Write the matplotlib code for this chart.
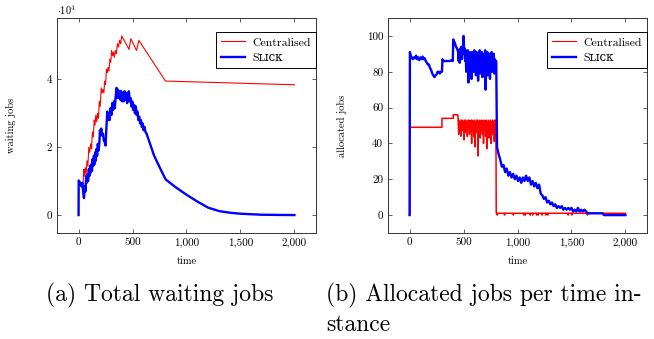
import numpy as np
import matplotlib
matplotlib.use("Agg")
import matplotlib.pyplot as plt

plt.rcParams['font.family'] = ['cmr10', 'DejaVu Serif']
plt.rcParams['mathtext.fontset'] = 'cm'
plt.rcParams['axes.unicode_minus'] = False

# ---- (a) total waiting jobs, in units of 1e4 ----
cent_wait_t = [0, 28, 40, 48, 55, 62, 70, 78, 86, 95, 103, 112, 120, 128, 136, 145, 152, 160,
               168, 176, 184, 192, 200, 210, 218, 226, 234, 242, 250, 258, 266, 274, 282, 290,
               298, 306, 314, 322, 330, 340, 350, 360, 370, 380, 390, 400, 468, 484, 537, 558,
               805, 2000]
cent_wait_y = [1.0, 0.9, 0.8, 1.35, 1.15, 1.4, 1.2, 1.6, 1.45, 2.0, 1.85, 2.1, 1.95, 2.45, 2.3,
               2.8, 2.65, 2.95, 2.75, 3.0, 2.85, 3.35, 3.2, 3.75, 3.6, 3.7, 3.6, 3.95, 3.85, 4.3,
               4.2, 4.35, 4.25, 4.6, 4.5, 4.85, 4.7, 4.8, 4.65, 4.85, 4.75, 5.05, 4.95, 5.15, 5.05,
               5.28, 4.88, 5.2, 4.85, 5.15, 3.95, 3.84]

slick_wait_t = [0, 1, 15, 25, 35, 45, 50, 58, 64, 70, 76, 82, 88, 95, 100, 106, 112, 118, 124,
                130, 136, 142, 148, 154, 160, 166, 172, 178, 184, 192, 198, 204, 210, 218, 226,
                234, 242, 250, 258, 266, 272, 280, 288, 296, 304, 312, 320, 328, 336, 344, 352,
                358, 364, 370, 378, 386, 394, 402, 410, 418, 426, 434, 442, 450, 458, 466, 474,
                482, 490, 498, 506, 514, 522, 530, 538, 546, 554, 562, 570, 578, 586, 594, 602,
                610, 620, 630, 700, 760, 807, 900, 1000, 1100, 1200, 1300, 1400, 1500, 1700, 2000]
slick_wait_y = [0, 1.02, 0.95, 0.85, 0.95, 0.6, 0.5, 0.85, 0.7, 1.15, 0.95, 1.2, 1.0, 1.35, 1.15,
                1.45, 1.25, 1.5, 1.3, 1.65, 1.45, 1.75, 1.5, 1.85, 1.6, 1.95, 1.75, 2.1, 1.9, 2.1,
                2.5, 2.35, 2.55, 2.35, 2.4, 2.2, 2.15, 2.05, 2.6, 3.05, 2.8, 3.0, 2.8, 3.15, 2.95,
                3.3, 3.1, 3.35, 3.15, 3.5, 3.75, 3.45, 3.7, 3.45, 3.65, 3.4, 3.65, 3.35, 3.6, 3.35,
                3.65, 3.4, 3.6, 3.3, 3.55, 3.65, 3.35, 3.45, 3.2, 3.35, 3.1, 3.25, 3.0, 3.2, 2.95,
                3.05, 2.8, 2.9, 2.7, 2.8, 2.6, 2.7, 2.5, 2.6, 2.45, 2.4, 1.75, 1.35, 1.05, 0.82,
                0.6, 0.4, 0.22, 0.12, 0.07, 0.04, 0.01, 0.0]

# ---- (b) allocated jobs per time instance ----
cent_alloc_head_t = [0, 3, 3, 300, 300, 405, 405, 447]
cent_alloc_head_y = [0, 0, 49, 49, 54, 54, 56, 56]
cent_alloc_noise = [53, 45, 53, 48, 52, 44, 53, 49, 53, 47, 52, 42, 53, 50, 53, 46, 52, 44, 53, 49,
                    53, 45, 52, 47, 53, 40, 53, 48, 52, 44, 53, 38, 52, 46, 53, 49, 53, 33, 52, 47,
                    53, 43, 52, 48, 53, 45, 52, 40, 53, 47, 52, 44, 53, 37, 52, 46, 53, 43, 52, 48,
                    53, 40, 52, 45, 53, 47, 52, 41, 53, 50]
cent_alloc_dips = [812, 880, 962, 1058, 1072, 1118, 1140, 1178, 1192, 1228, 1262, 1282, 1470,
                   1502, 1648, 1855, 1880, 1905]

slick_alloc_head_t = [0, 3, 10, 20, 30, 40, 50, 60, 70, 80, 90, 100, 110, 120, 130, 140, 150, 160,
                      170, 180, 190, 200, 210, 220, 230, 240, 250, 260, 270, 280, 290, 300, 305,
                      315, 330, 345, 360, 375, 390, 400, 405, 420, 430, 440, 450, 455, 460, 465,
                      470, 475, 480, 485, 490, 495, 500, 505]
slick_alloc_head_y = [0, 91, 89, 88, 87, 88, 87.5, 89, 87, 88, 86.5, 88, 87, 88.5, 87, 87.5, 86,
                      85, 84, 84, 82, 81, 79, 78, 77, 78, 78.5, 80, 80, 79, 80, 80, 87, 86, 86, 86,
                      86, 86, 86.5, 86, 98, 96, 94, 93, 91, 86, 92, 85, 93, 88, 94, 87, 92, 90,
                      100, 92]
slick_alloc_noise = [93, 86, 92, 80, 91, 88, 92, 74, 90, 85, 91, 82, 89, 76, 91, 87, 90, 80, 92, 84,
                     89, 78, 91, 86, 88, 75, 90, 83, 92, 79, 89, 85, 91, 77, 88, 83, 90, 81, 92, 70,
                     89, 84, 91, 78, 88, 86, 90, 76, 89, 83, 91, 80, 88, 85, 90, 79, 87, 84, 86]
slick_alloc_tail = [38, 34, 31, 27, 28, 24, 26, 22, 24, 21, 23, 20, 22, 19, 21, 18, 21, 19, 22, 19,
                    21, 17, 19, 16, 18, 15, 17, 12, 11, 9, 10, 7, 8, 6, 7, 5, 6, 4, 5, 4, 5, 3, 4,
                    3, 4, 3, 4, 2, 3, 2, 4, 2, 3, 2, 3, 2, 1]
slick_alloc_end_t = [1790, 1800, 2000]
slick_alloc_end_y = [1, 0, 0]

xticks = [0, 500, 1000, 1500, 2000]
xticklabels = ['0', '500', '1,000', '1,500', '2,000']

RED = (1, 0, 0)
BLUE = (0, 0, 1)

# build the (b) series
c_noise_t = 450 + 5 * np.arange(len(cent_alloc_noise))
c_t = list(cent_alloc_head_t) + list(c_noise_t) + [800, 803]
c_y = list(cent_alloc_head_y) + list(cent_alloc_noise) + [53, 1]
for d in cent_alloc_dips:
    c_t += [d - 3, d, d + 3]
    c_y += [1, 0, 1]
c_t += [2000]
c_y += [1]

s_noise_t = 510 + 5 * np.arange(len(slick_alloc_noise))
s_tail_t = 810 + 15 * np.arange(len(slick_alloc_tail))
s_t = list(slick_alloc_head_t) + list(s_noise_t) + [803] + list(s_tail_t) + slick_alloc_end_t
s_y = list(slick_alloc_head_y) + list(slick_alloc_noise) + [86] + list(slick_alloc_tail) + slick_alloc_end_y

fig = plt.figure(figsize=(6.54, 3.39), dpi=100)
ax1 = fig.add_axes([57 / 654, 106 / 339, 259 / 654, 215 / 339])
ax2 = fig.add_axes([388 / 654, 106 / 339, 259 / 654, 215 / 339])

ax1.plot(cent_wait_t, np.array(cent_wait_y) * 1e4, color=RED, lw=0.8, label='Centralised')
ax1.plot(slick_wait_t, np.array(slick_wait_y) * 1e4, color=BLUE, lw=1.7, label='Sʟɪᴄᴋ')
ax1.set_ylim(-0.528e4, 5.808e4)
ax1.set_yticks([0, 2e4, 4e4])
ax1.set_yticklabels(['0', '2', '4'])
ax1.set_ylabel('waiting jobs', fontsize=7.5)
fig.text(57 / 654, 1 - 10 / 339, r'$\cdot 10^4$', fontsize=7.5, va='center', ha='left')

ax2.plot(c_t, c_y, color=RED, lw=1.1, label='Centralised')
ax2.plot(s_t, s_y, color=BLUE, lw=1.7, label='Sʟɪᴄᴋ')
ax2.set_ylim(-10, 110)
ax2.set_yticks([0, 20, 40, 60, 80, 100])
ax2.set_ylabel('allocated jobs', fontsize=7.5)

for ax in (ax1, ax2):
    ax.set_xlim(-200, 2200)
    ax.set_xticks(xticks)
    ax.set_xticklabels(xticklabels)
    ax.set_xlabel('time', fontsize=7.5, labelpad=6)
    ax.yaxis.set_label_coords(-0.16, 0.5)
    ax.tick_params(direction='in', top=True, right=True, length=3, width=0.5,
                   labelsize=8, colors='#222222', labelcolor='black')
    for sp in ax.spines.values():
        sp.set_linewidth(0.7)
        sp.set_color('#333333')
    leg = ax.legend(loc='upper right', bbox_to_anchor=(1.0, 0.935), borderaxespad=0,
                    fancybox=False, framealpha=1, edgecolor='black', fontsize=8.5,
                    handlelength=2.0, borderpad=0.45, labelspacing=0.45, handletextpad=0.6)
    leg.get_frame().set_linewidth(0.7)
    leg.get_lines()[0].set_linewidth(0.8)

fig.text(160 / 654, 1 - 295 / 339, '(a) Total waiting jobs', fontsize=17, ha='center', va='center')
fig.text(326 / 654, 1 - 295 / 339, '(b) Allocated jobs per time in-', fontsize=17, ha='left', va='center')
fig.text(326 / 654, 1 - 325 / 339, 'stance', fontsize=17, ha='left', va='center')

fig.savefig('out.png', dpi=100)
